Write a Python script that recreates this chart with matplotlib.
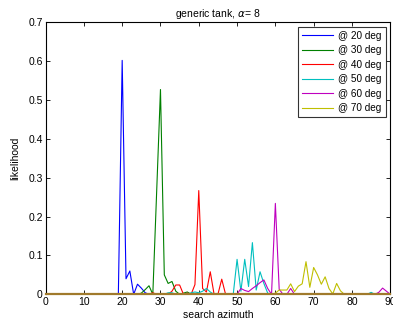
import numpy as np
import matplotlib
matplotlib.use('Agg')
import matplotlib.pyplot as plt

plt.rcParams['font.family'] = ['Liberation Sans', 'DejaVu Sans']

# search azimuth grid (deg)
azimuth = np.arange(0, 91)

# likelihood for each true azimuth, listed as {azimuth: value}, zero elsewhere
vals20 = {19: 0.0, 20: 0.602, 21: 0.040, 22: 0.060, 23: 0.0, 24: 0.026, 25: 0.016, 26: 0.004}
vals30 = {25: 0.003, 26: 0.012, 27: 0.022, 28: 0.0, 29: 0.263, 30: 0.527, 31: 0.050,
          32: 0.028, 33: 0.033, 34: 0.008, 35: 0.0, 36: 0.003, 37: 0.006}
vals40 = {28: 0.004, 33: 0.008, 34: 0.024, 35: 0.024, 36: 0.0, 37: 0.003, 38: 0.0,
          39: 0.025, 40: 0.267, 41: 0.015, 42: 0.006, 43: 0.058, 44: 0.0, 45: 0.0, 46: 0.039}
vals50 = {32: 0.004, 33: 0.004, 38: 0.004, 39: 0.006, 40: 0.004, 41: 0.008, 42: 0.015,
          43: 0.006, 50: 0.090, 51: 0.008, 52: 0.090, 53: 0.020, 54: 0.133, 55: 0.011,
          56: 0.058, 57: 0.028, 58: 0.003, 85: 0.005}
vals60 = {51: 0.015, 52: 0.010, 53: 0.007, 54: 0.015, 55: 0.022, 56: 0.030, 57: 0.037,
          58: 0.015, 59: 0.0, 60: 0.234, 61: 0.013, 62: 0.0, 63: 0.0, 64: 0.015,
          87: 0.005, 88: 0.016, 89: 0.008}
vals70 = {60: 0.003, 61: 0.011, 62: 0.011, 63: 0.011, 64: 0.027, 65: 0.007, 66: 0.021,
          67: 0.027, 68: 0.084, 69: 0.018, 70: 0.069, 71: 0.050, 72: 0.026, 73: 0.045,
          74: 0.015, 75: 0.001, 76: 0.028, 77: 0.009}

labels = ['@ 20 deg', '@ 30 deg', '@ 40 deg', '@ 50 deg', '@ 60 deg', '@ 70 deg']
colors = ['#0000ff', '#008000', '#ff0000', '#00bfbf', '#bf00bf', '#bfbf00']


def to_series(d):
	y = np.zeros(len(azimuth))
	for k, v in d.items():
		y[k] = v
	return y


fig = plt.figure(figsize=(3.93, 3.26), dpi=100)
ax = fig.add_axes([0.116, 0.0972, 0.877, 0.8344])

for d, lab, c in zip([vals20, vals30, vals40, vals50, vals60, vals70], labels, colors):
	ax.plot(azimuth, to_series(d), color=c, lw=0.8, label=lab)

ax.set_xlim(0, 90)
ax.set_ylim(0, 0.7)
ax.set_xticks(np.arange(0, 91, 10))
ax.set_yticks(np.arange(0, 0.71, 0.1))
ax.set_yticklabels(['0', '0.1', '0.2', '0.3', '0.4', '0.5', '0.6', '0.7'])
ax.tick_params(direction='in', length=3, width=0.6, labelsize=7.5, top=True, right=True, pad=2)
for s in ax.spines.values():
	s.set_linewidth(0.8)
ax.spines['bottom'].set_color('#a07a2c')
ax.spines['bottom'].set_linewidth(1.6)

ax.set_title(r'generic tank, $\alpha$= 8', fontsize=7.5, pad=4)
ax.set_xlabel('search azimuth', fontsize=7.5, labelpad=2)
ax.set_ylabel('likelihood', fontsize=7.5, labelpad=6)

leg = ax.legend(loc='upper right', fontsize=7.2, frameon=True, fancybox=False,
	edgecolor='black', borderaxespad=0.45, handlelength=3.1, handletextpad=0.5,
	labelspacing=0.45, borderpad=0.4)
leg.get_frame().set_linewidth(0.8)

fig.savefig('out.png', dpi=100)
